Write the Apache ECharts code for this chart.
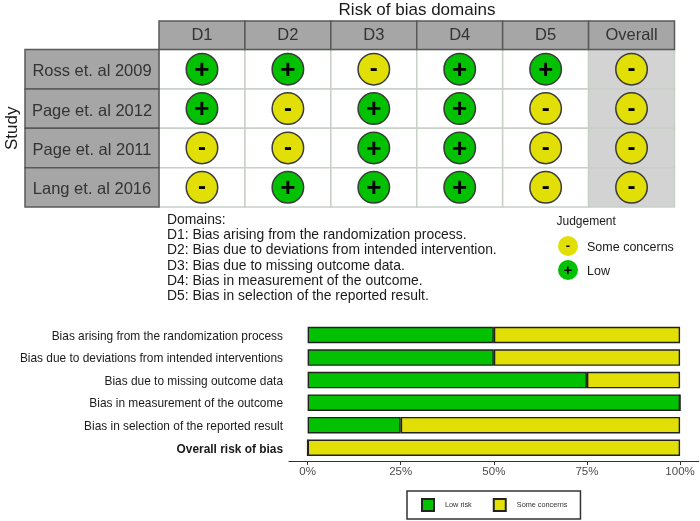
<!DOCTYPE html>
<html>
<head>
<meta charset="utf-8">
<style>html,body{margin:0;padding:0;background:#fff}#chart{width:700px;height:521px}</style>
<script src="https://cdn.jsdelivr.net/npm/echarts@6/dist/echarts.min.js"></script>
</head>
<body>
<div id="chart"></div>
<script>
// Traffic-light table of risk-of-bias judgements
const domains = ['D1', 'D2', 'D3', 'D4', 'D5', 'Overall'];
const studies = ['Ross et. al 2009', 'Page et. al 2012', 'Page et. al 2011', 'Lang et. al 2016'];
const ross2009 = ['+', '+', '-', '+', '+', '-'];
const page2012 = ['+', '-', '+', '+', '-', '-'];
const page2011 = ['-', '-', '+', '+', '-', '-'];
const lang2016 = ['-', '+', '+', '+', '-', '-'];
const judgements = [ross2009, page2012, page2011, lang2016];

const domainNotes = [
  'Domains:',
  'D1: Bias arising from the randomization process.',
  'D2: Bias due to deviations from intended intervention.',
  'D3: Bias due to missing outcome data.',
  'D4: Bias in measurement of the outcome.',
  'D5: Bias in selection of the reported result.'
];

// Summary bars, percent of studies per judgement
const summaryLabels = [
  'Bias arising from the randomization process',
  'Bias due to deviations from intended interventions',
  'Bias due to missing outcome data',
  'Bias in measurement of the outcome',
  'Bias in selection of the reported result',
  'Overall risk of bias'
];
const lowRisk = [50, 50, 75, 100, 25, 0];
const someConcerns = [50, 50, 25, 0, 75, 100];
const percentTicks = [0, 25, 50, 75, 100];

const GREEN = '#02C100';
const YELLOW = '#E2DF07';
const FONT = '"Liberation Sans", Arial, sans-serif';

// Filled rectangle covering one band of a category grid
function tile(fill, stroke, width) {
  return function (params, api) {
    const c = api.coord([api.value(0), api.value(1)]);
    const s = api.size([1, 1]);
    return {
      type: 'rect',
      shape: { x: c[0] - s[0] / 2, y: c[1] - s[1] / 2, width: s[0], height: s[1] },
      style: { fill: typeof fill === 'function' ? fill(api.value(0)) : fill, stroke: stroke, lineWidth: width }
    };
  };
}

const bodyCells = [];
const lowMarks = [];
const concernMarks = [];
judgements.forEach((row, r) => row.forEach((j, d) => {
  bodyCells.push([d, r]);
  (j === '+' ? lowMarks : concernMarks).push([d, r]);
}));

const hidden = { show: false };
const hiddenCat = (data, inverse) => ({
  type: 'category', data: data, inverse: !!inverse,
  axisLine: hidden, axisTick: hidden, axisLabel: hidden, splitLine: hidden
});

function markSeries(name, data, color, glyph, size, shift) {
  return {
    type: 'scatter', name: name, xAxisIndex: 0, yAxisIndex: 0, z: 4,
    data: data, symbol: 'circle', symbolSize: 31.5,
    itemStyle: { color: color, borderColor: '#3a3a3a', borderWidth: 1.5, opacity: 1 },
    label: {
      show: true, position: 'inside', formatter: glyph, offset: [0, shift],
      color: '#000', fontFamily: FONT, fontWeight: 'bold', fontSize: size, lineHeight: size
    },
    silent: true
  };
}

const option = {
  animation: false,
  backgroundColor: '#fff',
  textStyle: { fontFamily: FONT },
  title: {
    text: 'Risk of bias domains', left: 412, top: -3, textAlign: 'center',
    textStyle: { fontFamily: FONT, fontSize: 17, fontWeight: 'normal', color: '#1a1a1a' }
  },
  grid: [
    { left: 159, top: 49.5, width: 515.5, height: 157.5, outerBoundsMode: 'none' },
    { left: 159, top: 21, width: 515.5, height: 28.5, outerBoundsMode: 'none' },
    { left: 25, top: 49.5, width: 134, height: 157.5, outerBoundsMode: 'none' },
    { left: 289, top: 323.7, width: 409.7, height: 135.3, outerBoundsMode: 'none' }
  ],
  xAxis: [
    {
      gridIndex: 0, type: 'category', data: domains, position: 'top', z: 6,
      axisLine: hidden, axisTick: hidden, splitLine: hidden,
      axisLabel: { show: true, interval: 0, margin: 6, fontFamily: FONT, fontSize: 16.5, color: '#333' }
    },
    Object.assign({ gridIndex: 1 }, hiddenCat(domains)),
    Object.assign({ gridIndex: 2 }, hiddenCat(['Study'])),
    {
      gridIndex: 3, type: 'value', min: -5, max: 105, offset: 2,
      splitLine: hidden,
      axisLine: { show: true, onZero: false, lineStyle: { color: '#333', width: 1.2 } },
      axisTick: { show: true, customValues: percentTicks, length: 4, lineStyle: { color: '#333', width: 1 } },
      axisLabel: {
        show: true, customValues: percentTicks, margin: 5, fontFamily: FONT, fontSize: 11.5, color: '#4d4d4d',
        formatter: v => v + '%'
      }
    }
  ],
  yAxis: [
    {
      gridIndex: 0, type: 'category', data: studies, inverse: true, z: 6,
      axisLine: hidden, axisTick: hidden, splitLine: hidden,
      axisLabel: {
        show: true, align: 'center', margin: 67, fontFamily: FONT, fontSize: 16.5, color: '#333',
        formatter: v => '{s|' + v + '}',
        rich: { s: { fontFamily: FONT, fontSize: 16.5, color: '#333', padding: [5, 0, 0, 0] } }
      },
      name: 'Study', nameLocation: 'middle', nameGap: 134, nameRotate: 90,
      nameTextStyle: { fontFamily: FONT, fontSize: 17, color: '#1a1a1a' }
    },
    Object.assign({ gridIndex: 1 }, hiddenCat(['Domain'])),
    Object.assign({ gridIndex: 2 }, hiddenCat(studies, true)),
    {
      gridIndex: 3, type: 'category', data: summaryLabels, inverse: true,
      axisLine: hidden, axisTick: hidden, splitLine: hidden,
      axisLabel: {
        show: true, interval: 0, margin: 6, fontFamily: FONT, fontSize: 11.9, color: '#1a1a1a', padding: [3, 0, 0, 0],
        formatter: (v, i) => i === summaryLabels.length - 1 ? '{b|' + v + '}' : v,
        rich: { b: { fontWeight: 'bold', fontFamily: FONT, fontSize: 11.9, color: '#1a1a1a' } }
      }
    }
  ],
  legend: {
    left: 407, top: 491, width: 173, height: 26,
    data: ['Low risk', 'Some concerns'],
    selectedMode: false, orient: 'horizontal', align: 'left', icon: 'rect',
    padding: [7, 13, 7, 14], itemGap: 21, itemWidth: 12, itemHeight: 12,
    borderColor: '#333', borderWidth: 1.5,
    textStyle: { fontFamily: FONT, fontSize: 7.3, color: '#333', padding: [0, 0, 0, 6] }
  },
  series: [
    {
      type: 'custom', name: 'Cells', xAxisIndex: 0, yAxisIndex: 0, z: 1, silent: true,
      coordinateSystem: 'cartesian2d', data: bodyCells,
      renderItem: tile(d => d === domains.length - 1 ? '#D3D3D3' : '#fff', '#C8D0C8', 1.5)
    },
    {
      type: 'custom', name: 'Domain headers', xAxisIndex: 1, yAxisIndex: 1, z: 1, silent: true,
      coordinateSystem: 'cartesian2d', data: domains.map((d, i) => [i, 0]),
      renderItem: tile('#A6A6A6', '#595959', 1.5)
    },
    {
      type: 'custom', name: 'Study strips', xAxisIndex: 2, yAxisIndex: 2, z: 1, silent: true,
      coordinateSystem: 'cartesian2d', data: studies.map((s, i) => [0, i]),
      renderItem: tile('#A6A6A6', '#595959', 1.5)
    },
    markSeries('Judgement low', lowMarks, GREEN, '+', 26, 1.5),
    markSeries('Judgement some concerns', concernMarks, YELLOW, '-', 24, 0.5),
    {
      type: 'bar', name: 'Low risk', xAxisIndex: 3, yAxisIndex: 3, stack: 'rob', barWidth: 16.5, silent: true,
      data: lowRisk, itemStyle: { color: GREEN, borderColor: '#222', borderWidth: 1.4 }
    },
    {
      type: 'bar', name: 'Some concerns', xAxisIndex: 3, yAxisIndex: 3, stack: 'rob', barWidth: 16.5, silent: true,
      data: someConcerns, itemStyle: { color: YELLOW, borderColor: '#222', borderWidth: 1.4 }
    }
  ],
  graphic: [
    {
      type: 'text', left: 167, top: 212.5,
      style: { text: domainNotes.join('\n'), fontFamily: FONT, fontSize: 13.9, lineHeight: 15.2, fill: '#1a1a1a' }
    },
    { type: 'text', left: 556.5, top: 216, style: { text: 'Judgement', fontFamily: FONT, fontSize: 12, fill: '#1a1a1a' } },
    { type: 'circle', shape: { cx: 568, cy: 246, r: 10 }, style: { fill: YELLOW } },
    {
      type: 'text', x: 568, y: 246,
      style: { text: '-', align: 'center', verticalAlign: 'middle', fontFamily: FONT, fontWeight: 'bold', fontSize: 13, fill: '#000' }
    },
    { type: 'text', left: 587, top: 241, style: { text: 'Some concerns', fontFamily: FONT, fontSize: 12.5, fill: '#1a1a1a' } },
    { type: 'circle', shape: { cx: 568, cy: 270, r: 10 }, style: { fill: GREEN } },
    {
      type: 'text', x: 568, y: 270.5,
      style: { text: '+', align: 'center', verticalAlign: 'middle', fontFamily: FONT, fontWeight: 'bold', fontSize: 15, fill: '#000' }
    },
    { type: 'text', left: 587, top: 265, style: { text: 'Low', fontFamily: FONT, fontSize: 12.5, fill: '#1a1a1a' } }
  ]
};

echarts.init(document.getElementById('chart'), null, { renderer: 'canvas' }).setOption(option);
</script>
</body>
</html>
